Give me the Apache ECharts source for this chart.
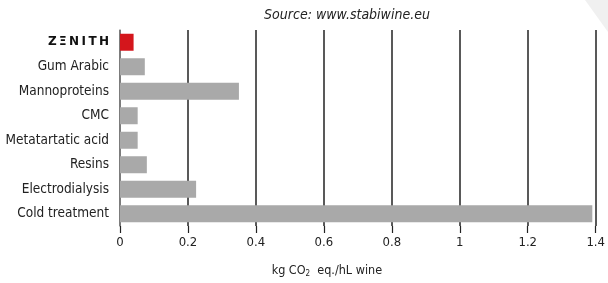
<!DOCTYPE html>
<html><head><meta charset="utf-8">
<script src="https://cdn.jsdelivr.net/npm/echarts@6/dist/echarts.min.js"></script>
<style>html,body{margin:0;padding:0;background:#fff;overflow:hidden}#c{width:608px;height:283px}</style>
</head><body><div id="c"></div>
<script>
const categories = ['ZENITH','Gum Arabic','Mannoproteins','CMC','Metatartatic acid','Resins','Electrodialysis','Cold treatment'];
const values = [0.04, 0.073, 0.35, 0.052, 0.052, 0.079, 0.224, 1.39];
const xTicks = [0, 0.2, 0.4, 0.6, 0.8, 1, 1.2, 1.4];
const FONT = "'Liberation Sans Narrow','DejaVu Sans Condensed','Open Sans',sans-serif";
const chart = echarts.init(document.getElementById('c'), null, {renderer:'canvas'});
chart.setOption({
  animation:false,
  title:{text:'Source: www.stabiwine.eu', left:342, top:3, textAlign:'center',
    textStyle:{fontFamily:FONT, fontStyle:'italic', fontWeight:'normal', fontSize:14, color:'#222'}},
  graphic:[{type:'polygon', shape:{points:[[585,0],[608,0],[608,32]]}, style:{fill:'#f0f0f0'}, silent:true}],
  grid:{left:120, right:4, top:30, bottom:53, containLabel:false},
  xAxis:{type:'value', min:0, max:1.4, interval:0.2,
    axisLine:{show:false},
    axisTick:{show:true, length:7, lineStyle:{color:'#222', width:1.2}},
    splitLine:{show:true, lineStyle:{color:'#222', width:1.5}},
    axisLabel:{fontFamily:FONT, fontSize:13, color:'#222', margin:10,
      formatter:v=>{const t=xTicks.find(x=>Math.abs(x-v)<1e-9);return t===undefined?'':String(t);}},
    name:'kg CO{s|2}  eq./hL wine', nameLocation:'middle', nameGap:38,
    nameTextStyle:{fontFamily:FONT, fontSize:12.5, color:'#222', padding:[0,62,0,0],
      rich:{s:{fontFamily:FONT, fontSize:8, color:'#222', verticalAlign:'bottom', padding:[6,0,0,0]}}}},
  yAxis:{type:'category', data:categories, inverse:true,
    axisLine:{show:true, lineStyle:{color:'#888', width:1.5}},
    axisTick:{show:false},
    axisLabel:{fontFamily:FONT, fontSize:13.5, color:'#222', margin:11,
      formatter:v=> v==='ZENITH' ? '{z|Z\u2009Ξ\u2009N\u2009I\u2009T\u2009H}' : v,
      rich:{z:{fontFamily:"'DejaVu Sans',sans-serif", fontWeight:600, fontSize:12, color:'#111'}}}},
  series:[{type:'bar', data:values.map((v,i)=>({value:v, itemStyle:{color: i===0?'#d4161c':'#a9a9a9'}})),
    barWidth:17, z:3}]
});
</script></body></html>
